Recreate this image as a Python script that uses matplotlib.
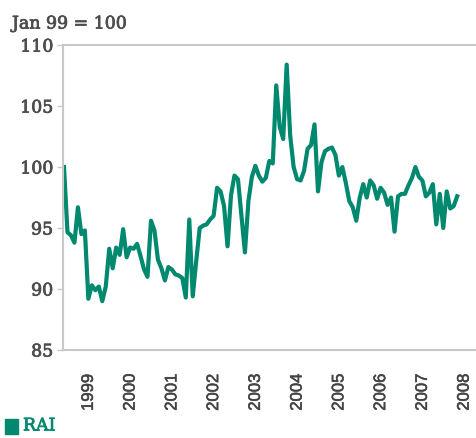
import numpy as np
import matplotlib.pyplot as plt
import matplotlib.patheffects as pe
from matplotlib.patches import Rectangle

# RAI index, monthly from Jan 1999 (Jan 99 = 100)
rai = [100.0, 94.65, 94.4, 93.8, 96.7, 94.5, 94.8, 89.2, 90.3, 89.9, 90.2, 89.0,
       90.2, 93.3, 91.7, 93.4, 92.8, 94.9, 92.6, 93.4, 93.3, 93.7, 92.7, 91.6,
       91.0, 95.6, 94.8, 92.4, 91.7, 90.7, 91.8, 91.6, 91.2, 91.1, 90.9, 89.3,
       95.7, 89.4, 92.3, 95.0, 95.2, 95.3, 95.7, 96.0, 98.3, 98.0, 96.8, 93.5,
       97.7, 99.3, 99.0, 96.0, 93.0, 97.2, 99.2, 100.1, 99.3, 98.8, 99.1, 100.5,
       100.3, 106.7, 103.3, 102.3, 108.4, 102.6, 100.0, 99.0, 98.9, 99.7, 101.5, 101.8,
       103.5, 98.0, 100.4, 101.3, 101.5, 101.6, 101.0, 99.3, 100.0, 98.7, 97.2, 96.7,
       95.6, 97.5, 98.6, 97.5, 98.9, 98.5, 97.4, 98.3, 97.9, 96.9, 97.5, 94.7,
       97.6, 97.8, 97.8, 98.5, 99.1, 100.0, 99.2, 98.9, 97.6, 97.9, 98.6, 95.3,
       97.8, 95.0, 98.0, 96.6, 96.8, 97.6]
years = [str(y) for y in range(1999, 2009)]
yticks = [85, 90, 95, 100, 105, 110]

teal = "#00896f"
grey = "#c8c8c8"
txt = "#4d4d4d"

def thick(c):
    # a bit heavier than the regular weight, like the semibold serif in the original
    return [pe.withStroke(linewidth=0.55, foreground=c)]

fig = plt.figure(figsize=(4.77, 4.38), dpi=100)
ax = fig.add_axes([0.132, 0.201, 0.868, 0.696])

months = np.arange(len(rai))
ax.plot(months, rai, color=teal, lw=3.0, solid_joinstyle="round")

ax.set_xlim(-0.3, 118.7)
ax.set_ylim(85, 110)
ax.set_yticks(yticks)
ax.set_yticklabels([str(v) for v in yticks], family="DejaVu Serif",
                   fontsize=12.5, color=txt)
for t in ax.get_yticklabels():
    t.set_path_effects(thick(txt))
ax.tick_params(axis="y", length=4, width=1, color=grey, pad=3)

ax.set_xticks([7 + 12 * i for i in range(len(years))])
ax.set_xticklabels(years, rotation=90, family="Liberation Sans", fontsize=12,
                   color="#444444", va="top")
for t in ax.get_xticklabels():
    t.set_path_effects([pe.withStroke(linewidth=0.4, foreground="#444444")])
ax.tick_params(axis="x", length=0, pad=17)

ax.spines["right"].set_visible(False)
for s in ["left", "bottom", "top"]:
    ax.spines[s].set_color(grey)
    ax.spines[s].set_linewidth(1.5)

fig.text(12 / 477, 1 - 24 / 438, "Jan 99 = 100", family="DejaVu Serif",
         fontsize=12.5, color=txt, va="center", ha="left", path_effects=thick(txt))

# legend
fig.patches.append(Rectangle((5 / 477, 1 - 434 / 438), 13 / 477, 15 / 438,
                             transform=fig.transFigure, color=teal))
fig.text(23 / 477, 1 - 426 / 438, "RAI", family="DejaVu Serif", fontsize=12.5,
         color=teal, va="center", ha="left", path_effects=thick(teal))

fig.savefig("out.png", dpi=100)
